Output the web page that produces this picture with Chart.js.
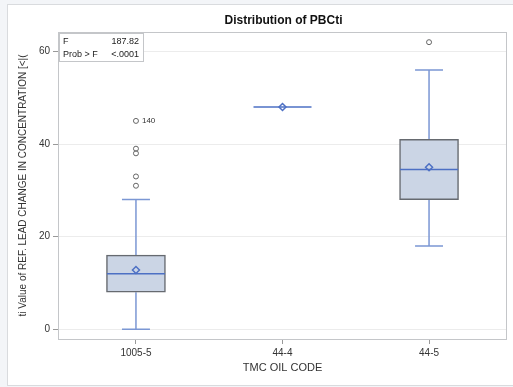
<!DOCTYPE html>
<html>
<head>
<meta charset="utf-8">
<script src="https://cdn.jsdelivr.net/npm/chart.js@4/dist/chart.umd.min.js"></script>
<style>
  html, body { margin: 0; padding: 0; background: #f3f5f8; }
  #wrap { width: 513px; height: 387px; }
</style>
</head>
<body>
<div id="wrap"><canvas id="boxChart" width="513" height="387"></canvas></div>
<script>
// box plot summary per oil code
const oilCodes = ['1005-5', '44-4', '44-5'];
const whiskerLow = [0, 48, 18];
const q1 = [8, 48, 28];
const median = [12, 48, 34.5];
const q3 = [16, 48, 41];
const whiskerHigh = [28, 48, 56];
const means = [12.8, 48, 35];
// outliers: [category index, value, label]
const outliers = [[0, 45, '140'], [0, 39, ''], [0, 38, ''], [0, 33, ''], [0, 31, ''], [2, 62, '']];
const yTicks = [0, 20, 40, 60];
const statRows = [['F', '187.82'], ['Prob > F', '<.0001']];

const FONT = '"Liberation Sans", Arial, sans-serif';
const WHISKER = '#7b97d4';
const MEDIAN = '#4d70c4';

const boxPlugin = {
  id: 'boxExtras',
  beforeDraw(chart) {
    const ctx = chart.ctx;
    ctx.save();
    ctx.fillStyle = '#fff';
    ctx.fillRect(7, 4, 520, 381);
    ctx.strokeStyle = '#d9dbde';
    ctx.lineWidth = 1;
    ctx.strokeRect(7.5, 4.5, 520, 381);
    ctx.restore();
  },
  beforeDatasetsDraw(chart) {
    // whiskers + caps under the boxes
    const { ctx, scales: { x, y } } = chart;
    ctx.save();
    ctx.strokeStyle = WHISKER;
    ctx.lineWidth = 1.5;
    oilCodes.forEach((c, i) => {
      if (q1[i] === q3[i]) return;
      const px = x.getPixelForValue(i);
      ctx.beginPath();
      ctx.moveTo(px, y.getPixelForValue(whiskerLow[i]));
      ctx.lineTo(px, y.getPixelForValue(q1[i]));
      ctx.moveTo(px, y.getPixelForValue(q3[i]));
      ctx.lineTo(px, y.getPixelForValue(whiskerHigh[i]));
      [whiskerLow[i], whiskerHigh[i]].forEach(v => {
        const py = y.getPixelForValue(v);
        ctx.moveTo(px - 14, py);
        ctx.lineTo(px + 14, py);
      });
      ctx.stroke();
    });
    ctx.restore();
  },
  afterDatasetDraw(chart, args) {
    if (args.index !== 0) return;
    const { ctx, scales: { x, y } } = chart;
    ctx.save();
    ctx.strokeStyle = MEDIAN;
    ctx.lineWidth = 1.5;
    oilCodes.forEach((c, i) => {
      const px = x.getPixelForValue(i);
      const py = y.getPixelForValue(median[i]);
      ctx.beginPath();
      ctx.moveTo(px - 29, py);
      ctx.lineTo(px + 29, py);
      ctx.stroke();
    });
    ctx.restore();
  },
  afterDraw(chart) {
    const { ctx, chartArea: a, scales: { x, y } } = chart;
    ctx.save();
    // plot frame
    ctx.strokeStyle = '#c4c6c9';
    ctx.lineWidth = 1;
    ctx.strokeRect(a.left + 0.5, a.top + 0.5, a.right - a.left - 1, a.bottom - a.top);
    // title
    ctx.fillStyle = '#111';
    ctx.font = 'bold 12px ' + FONT;
    ctx.textAlign = 'center';
    ctx.textBaseline = 'middle';
    ctx.fillText('Distribution of PBCti', (a.left + a.right) / 2 + 1, 21);
    // outlier labels
    ctx.font = '8px ' + FONT;
    ctx.textAlign = 'left';
    ctx.fillStyle = '#333';
    outliers.forEach(o => {
      if (!o[2]) return;
      ctx.fillText(o[2], x.getPixelForValue(o[0]) + 6, y.getPixelForValue(o[1]));
    });
    // inset stats box
    const bx = a.left + 1, by = a.top + 1, bw = 84, bh = 28;
    ctx.fillStyle = '#fff';
    ctx.fillRect(bx, by, bw, bh);
    ctx.strokeStyle = '#c4c6c9';
    ctx.strokeRect(bx + 0.5, by + 0.5, bw, bh);
    ctx.fillStyle = '#222';
    ctx.font = '9px ' + FONT;
    statRows.forEach((r, k) => {
      const ty = by + 9 + k * 12.5;
      ctx.textAlign = 'left';
      ctx.fillText(r[0], bx + 4, ty);
      ctx.textAlign = 'right';
      ctx.fillText(r[1], bx + bw - 4, ty);
    });
    ctx.restore();
  }
};

new Chart(document.getElementById('boxChart'), {
  type: 'bar',
  data: {
    datasets: [
      {
        type: 'bar',
        order: 3,
        data: oilCodes.map((c, i) => ({ x: i, y: [q1[i], q3[i]] })).filter((d, i) => q1[i] !== q3[i]),
        backgroundColor: '#cbd5e5',
        borderColor: '#666a70',
        borderWidth: 1.5,
        borderSkipped: false,
        barThickness: 59
      },
      {
        type: 'scatter',
        order: 2,
        data: outliers.map(o => ({ x: o[0], y: o[1] })),
        pointStyle: 'circle',
        pointRadius: 2.5,
        borderColor: '#666',
        borderWidth: 1,
        backgroundColor: 'rgba(0,0,0,0)'
      },
      {
        type: 'scatter',
        order: 1,
        data: means.map((m, i) => ({ x: i, y: m })),
        pointStyle: 'rectRot',
        pointRadius: 3.5,
        borderColor: MEDIAN,
        borderWidth: 1.5,
        backgroundColor: 'rgba(0,0,0,0)'
      }
    ]
  },
  options: {
    responsive: false,
    animation: false,
    layout: { padding: { left: 17, top: 32, right: 6, bottom: 12 } },
    plugins: { legend: { display: false }, tooltip: { enabled: false } },
    scales: {
      x: {
        type: 'linear',
        offset: false,
        min: -0.532,
        max: 2.532,
        afterBuildTicks: s => { s.ticks = oilCodes.map((c, i) => ({ value: i })); },
        afterFit: s => { s.height = 36; },
        ticks: { callback: v => oilCodes[v], color: '#333', font: { family: FONT, size: 10 }, padding: 3, maxRotation: 0, autoSkip: false },
        grid: { offset: false, drawOnChartArea: false, tickLength: 5, color: '#999' },
        border: { display: false },
        title: { display: true, text: 'TMC OIL CODE', color: '#333', font: { family: FONT, size: 11 }, padding: 0 }
      },
      y: {
        min: -2.1,
        max: 64.2,
        afterBuildTicks: s => { s.ticks = yTicks.map(v => ({ value: v })); },
        afterFit: s => { s.width = 41; },
        ticks: { color: '#333', font: { family: FONT, size: 10 }, padding: 3 },
        grid: { color: '#ececec', tickColor: '#999', tickLength: 5 },
        border: { display: false },
        title: { display: true, text: 'ti Value of REF. LEAD CHANGE IN CONCENTRATION [<|(', color: '#333', font: { family: FONT, size: 10 }, padding: 0 }
      }
    }
  },
  plugins: [boxPlugin]
});
</script>
</body>
</html>
